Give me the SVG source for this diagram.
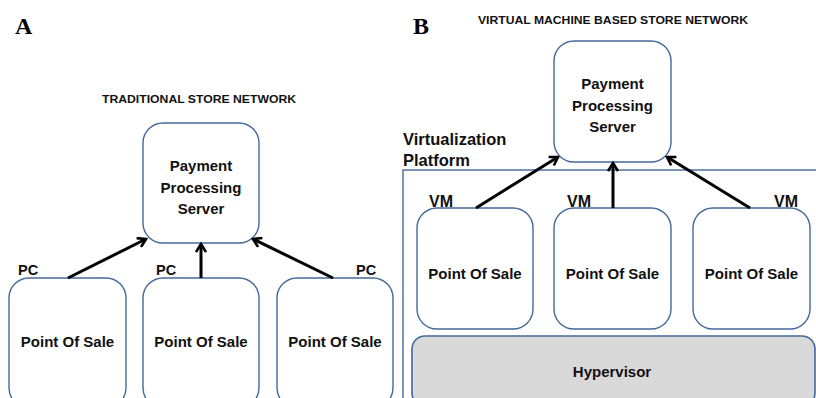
<svg xmlns="http://www.w3.org/2000/svg" width="816" height="398" viewBox="0 0 816 398">
<defs>
<marker id="ah" viewBox="0 0 12 12" refX="10" refY="6" markerWidth="12" markerHeight="12" markerUnits="userSpaceOnUse" orient="auto">
<path d="M2,1 L10,6 L2,11" fill="none" stroke="#000" stroke-width="2.6"/>
</marker>
<style>
.box{fill:#fff;stroke:#44699a;stroke-width:1.4}
.hyp{fill:#d9d9d9;stroke:#44699a;stroke-width:1.6}
.plat{fill:none;stroke:#44699a;stroke-width:1.4}
.t{font-family:"Liberation Sans",Arial,sans-serif;font-weight:bold;font-size:15px;fill:#111;text-anchor:middle}
.lab{font-family:"Liberation Sans",Arial,sans-serif;font-weight:bold;font-size:14.5px;fill:#111}
.vm{font-size:16px}
.plt{font-size:16.5px}
.title{font-family:"Liberation Sans",Arial,sans-serif;font-weight:bold;font-size:11px;fill:#111;text-anchor:middle}
.big{font-family:"Liberation Serif","Times New Roman",serif;font-weight:bold;font-size:24px;fill:#000}
.arr{stroke:#000;stroke-width:3;fill:none;marker-end:url(#ah)}
</style>
</defs>
<text class="big" x="15" y="34">A</text>
<text class="big" x="413" y="34">B</text>
<text class="title" x="199" y="103" textLength="194" lengthAdjust="spacingAndGlyphs">TRADITIONAL STORE NETWORK</text>
<text class="title" x="613" y="24" textLength="270" lengthAdjust="spacingAndGlyphs">VIRTUAL MACHINE BASED STORE NETWORK</text>

<g id="platform">
<rect class="plat" x="403" y="170" width="420" height="240"/>
<text class="lab plt" x="403" y="145">Virtualization</text>
<text class="lab plt" x="403" y="166">Platform</text>
</g>

<g id="serverA">
<rect class="box" x="143" y="123" width="116" height="120" rx="20"/>
<text class="t" x="201" y="171">Payment</text>
<text class="t" x="201" y="193">Processing</text>
<text class="t" x="201" y="214">Server</text>
</g>
<g id="posA1">
<rect class="box" x="9" y="278" width="117" height="130" rx="20"/>
<text class="t" x="67.5" y="347">Point Of Sale</text>
<text class="lab" x="18" y="275">PC</text>
</g>
<g id="posA2">
<rect class="box" x="143" y="278" width="116" height="130" rx="20"/>
<text class="t" x="201" y="347">Point Of Sale</text>
<text class="lab" x="156" y="275">PC</text>
</g>
<g id="posA3">
<rect class="box" x="277" y="278" width="116" height="130" rx="20"/>
<text class="t" x="335" y="347">Point Of Sale</text>
<text class="lab" x="356" y="275">PC</text>
</g>

<g id="serverB">
<rect class="box" x="554" y="41" width="117" height="121" rx="20"/>
<text class="t" x="612.5" y="89">Payment</text>
<text class="t" x="612.5" y="111">Processing</text>
<text class="t" x="612.5" y="132">Server</text>
</g>
<g id="posB1">
<rect class="box" x="417" y="208" width="116" height="121" rx="20"/>
<text class="t" x="475" y="279">Point Of Sale</text>
<text class="lab vm" x="429" y="207">VM</text>
</g>
<g id="posB2">
<rect class="box" x="554" y="208" width="117" height="121" rx="20"/>
<text class="t" x="612.5" y="279">Point Of Sale</text>
<text class="lab vm" x="567" y="207">VM</text>
</g>
<g id="posB3">
<rect class="box" x="693" y="208" width="117" height="121" rx="20"/>
<text class="t" x="751.5" y="279">Point Of Sale</text>
<text class="lab vm" x="774" y="207">VM</text>
</g>
<g id="hypervisor">
<rect class="hyp" x="412" y="336" width="403" height="70" rx="13"/>
<text class="t" x="612" y="377">Hypervisor</text>
</g>

<g id="connectors">
<line class="arr" x1="68" y1="278" x2="146" y2="239"/>
<line class="arr" x1="201" y1="278" x2="201" y2="244"/>
<line class="arr" x1="333" y1="278" x2="253" y2="239"/>
<line class="arr" x1="476" y1="208" x2="558" y2="157"/>
<line class="arr" x1="613" y1="208" x2="613" y2="163"/>
<line class="arr" x1="750" y1="208" x2="667" y2="157"/>
</g>
</svg>
